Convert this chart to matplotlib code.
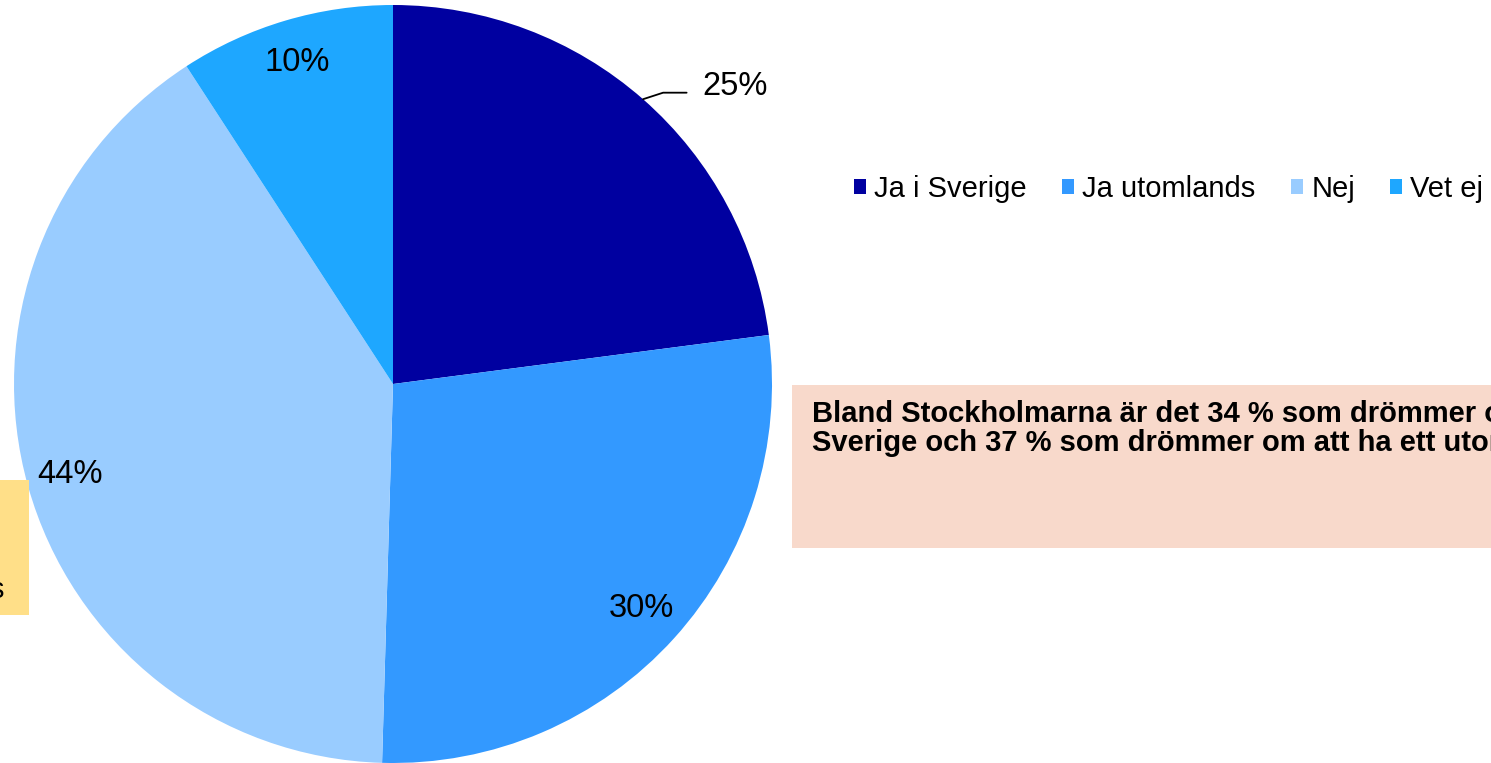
import numpy as np
import matplotlib
matplotlib.use("Agg")
import matplotlib.pyplot as plt
from matplotlib.patches import Patch, Rectangle

plt.rcParams['font.family'] = ['Liberation Sans', 'DejaVu Sans']

# data
categories = ['Ja i Sverige', 'Ja utomlands', 'Nej', 'Vet ej']
values = [25, 30, 44, 10]
colors = ['#0000A0', '#3399FF', '#99CCFF', '#1EA7FF']
note = ('Bland Stockholmarna är det 34 % som drömmer om ett fritidshus i\n'
        'Sverige och 37 % som drömmer om att ha ett utomlands.')

W, H = 1491, 763
fig = plt.figure(figsize=(W / 100, H / 100), dpi=100)

# pie axes: centre ~ (393, 383) px, radius ~380 px
ax = fig.add_axes([13 / W, 0.0, 760 / W, 758 / H])
wedges, _ = ax.pie(values, colors=colors, startangle=90, counterclock=False,
                   radius=1.0, wedgeprops=dict(linewidth=0))
ax.set_xlim(-1, 1)
ax.set_ylim(-1, 1)
ax.set_aspect('equal')
ax.axis('off')

# percentage labels
for i, (w, v) in enumerate(zip(wedges, values)):
    mid = np.deg2rad((w.theta1 + w.theta2) / 2)
    x, y = np.cos(mid), np.sin(mid)
    if i == 0:
        ax.annotate(f'{v}%', xy=(x, y), xytext=(0.815, 0.785),
                    fontsize=23.5, va='center', ha='left',
                    arrowprops=dict(arrowstyle='-', color='black', lw=1.3,
                                    shrinkA=9, shrinkB=0, relpos=(0, 0.3),
                                    connectionstyle='angle,angleA=0,angleB=18,rad=0'),
                    annotation_clip=False)
    else:
        d = 0.885
        ax.text(d * x, d * y, f'{v}%', fontsize=23.5, ha='center', va='center')

# legend
handles = [Patch(facecolor=c, edgecolor='none') for c in colors]
fig.legend(handles, categories, loc='center left',
           bbox_to_anchor=(854 / W, 1 - 189 / H), ncol=4, frameon=False,
           fontsize=21, handlelength=0.42, handleheight=0.42,
           handletextpad=0.28, columnspacing=1.2, borderaxespad=0, borderpad=0)

# pink note box (runs off the right edge)
fig.patches.append(Rectangle((792 / W, 1 - 548 / H), 1 - 792 / W + 0.05,
                             163 / H, transform=fig.transFigure,
                             facecolor='#F8D9CB', edgecolor='none', zorder=0))
fig.text(812 / W, 1 - 400 / H, note, fontsize=21, fontweight='bold',
         ha='left', va='top', linespacing=1.06)

# yellow box at the left edge, mostly cut off
fig.patches.append(Rectangle((0, 1 - 615 / H), 29 / W, 135 / H,
                             transform=fig.transFigure,
                             facecolor='#FFDF88', edgecolor='none', zorder=0))
fig.text(5 / W, 1 - 590 / H, 'Stockholms', fontsize=21,
         ha='right', va='center')

fig.savefig('out.png', dpi=100)
